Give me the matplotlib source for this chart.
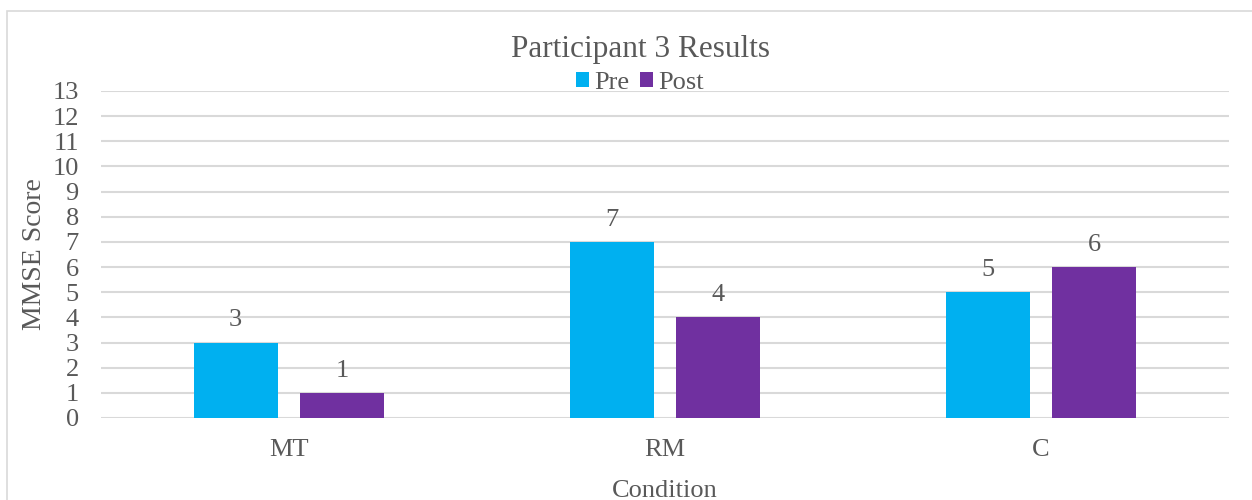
import numpy as np
import matplotlib
matplotlib.use("Agg")
import matplotlib.pyplot as plt
from matplotlib.patches import Rectangle

conditions = ["MT", "RM", "C"]
pre_scores = [3, 7, 5]
post_scores = [1, 4, 6]
series_names = ["Pre", "Post"]
y_ticks = list(range(0, 14))

pre_color = "#00B0F0"
post_color = "#7030A0"
text_color = "#595959"
grid_color = "#D9D9D9"

plt.rcParams["font.family"] = ["Liberation Serif", "DejaVu Serif"]

fig = plt.figure(figsize=(12.52, 5.0), dpi=100)
ax = fig.add_axes([0.0807, 0.164, 0.9009, 0.654])

# outer chart border
fig.patches.append(Rectangle((7 / 1252, -0.1), 1.2, 1 - 11 / 500 + 0.1,
                             transform=fig.transFigure, fill=False,
                             edgecolor=grid_color, linewidth=1.2))

x = np.arange(len(conditions))
width = 0.223
offset = 0.142
bars_pre = ax.bar(x - offset, pre_scores, width, color=pre_color, label=series_names[0], zorder=3)
bars_post = ax.bar(x + offset, post_scores, width, color=post_color, label=series_names[1], zorder=3)

for bars in (bars_pre, bars_post):
    for b in bars:
        ax.annotate(f"{b.get_height():g}", (b.get_x() + b.get_width() / 2, b.get_height()),
                    xytext=(0, 8), textcoords="offset points", ha="center", va="bottom",
                    fontsize=19, color=text_color)

ax.set_xlim(-0.5, 2.5)
ax.set_ylim(0, 13)
ax.set_yticks(y_ticks)
ax.set_xticks(x)
ax.set_xticklabels(conditions)
ax.yaxis.grid(True, color=grid_color, linewidth=1.5, zorder=0)
ax.set_axisbelow(True)
for s in ax.spines.values():
    s.set_visible(False)
ax.tick_params(axis="both", length=0, labelsize=19, colors=text_color)
ax.tick_params(axis="x", pad=15)
ax.tick_params(axis="y", pad=16)

ax.set_xlabel("Condition", fontsize=19, color=text_color, labelpad=13.5)
ax.set_ylabel("MMSE Score", fontsize=20, color=text_color, labelpad=4)

fig.text(0.5115, 0.900, "Participant 3 Results", ha="center", va="center",
         fontsize=22.5, color=text_color)
ax.legend(loc="center", bbox_to_anchor=(0.478, 1.024), ncol=2, frameon=False,
          fontsize=19, handlelength=0.5, handleheight=0.5, handletextpad=0.2,
          columnspacing=0.4, labelcolor=text_color, borderaxespad=0)

fig.savefig("out.png", dpi=100)
